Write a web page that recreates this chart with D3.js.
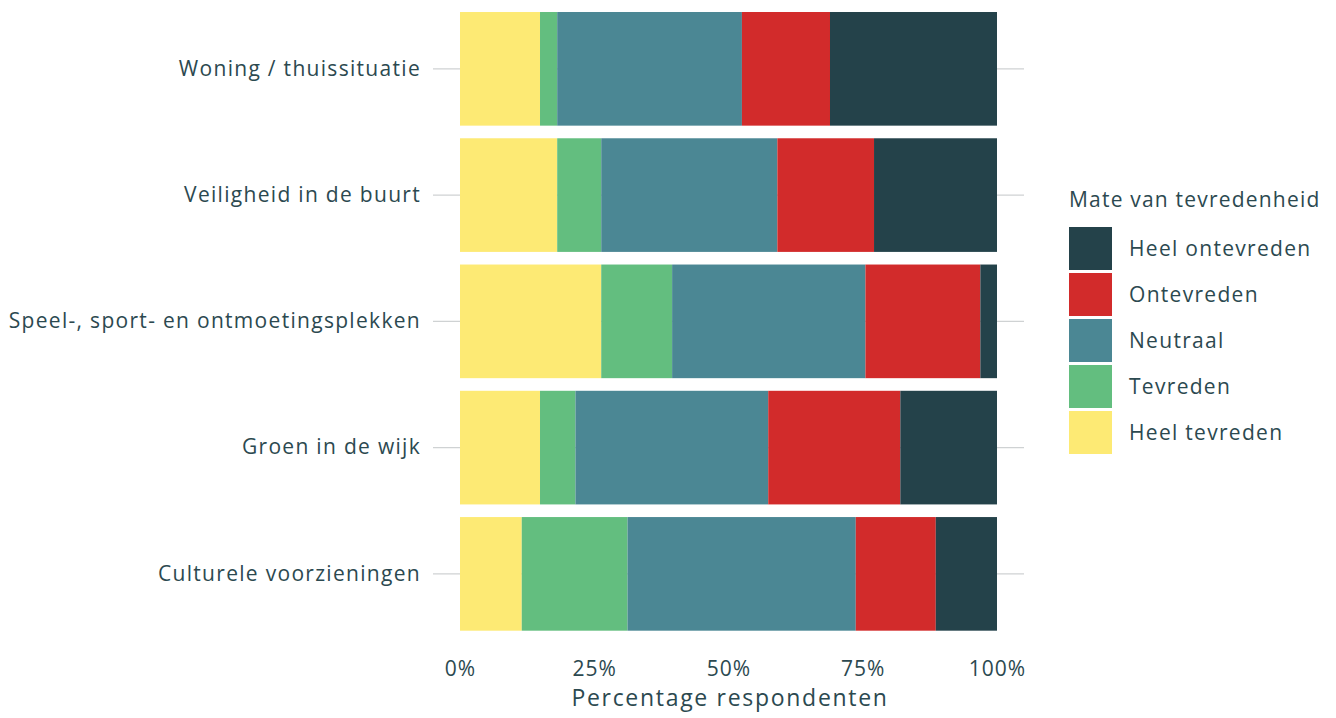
<!DOCTYPE html>
<html><head><meta charset="utf-8">
<script src="https://cdn.jsdelivr.net/npm/d3@7"></script>
<style>body{margin:0;background:#fff}svg{display:block}text{font-family:"Open Sans","Noto Sans",sans-serif;font-weight:400;fill:#2c4950;letter-spacing:1.3px}</style>
</head><body>
<svg id="c" width="1336" height="718"></svg>
<script>
const categories = ["Woning / thuissituatie","Veiligheid in de buurt","Speel-, sport- en ontmoetingsplekken","Groen in de wijk","Culturele voorzieningen"];
const levels = ["Heel tevreden","Tevreden","Neutraal","Ontevreden","Heel ontevreden"];
const heelTevreden   = [14.9, 18.1, 26.3, 14.9, 11.5];
const tevreden       = [ 3.2,  8.2, 13.2,  6.6, 19.7];
const neutraal       = [34.4, 32.8, 36.0, 35.9, 42.5];
const ontevreden     = [16.4, 18.0, 21.4, 24.6, 14.9];
const heelOntevreden = [31.1, 22.9,  3.1, 18.0, 11.4];
const xTicks = [0, 0.25, 0.5, 0.75, 1];
const colors = ["#fdea74","#63be7f","#4b8794","#d22b2b","#24424a"];

const series = [heelTevreden, tevreden, neutraal, ontevreden, heelOntevreden];
const rows = categories.map((c,i)=>{
  const tot = series.reduce((s,a)=>s+a[i],0);
  const r = {cat:c};
  levels.forEach((l,j)=>r[l]=series[j][i]/tot);
  return r;
});
const stack = d3.stack().keys(levels)(rows);

const svg = d3.select("#c");
const x = d3.scaleLinear().domain([0,1]).range([460,997]);
const y = d3.scaleBand().domain(categories).range([5.7,637]).paddingInner(0.1).paddingOuter(0.05);
const color = d3.scaleOrdinal().domain(levels).range(colors);

svg.append("g").selectAll("line").data(categories).join("line")
  .attr("x1",433).attr("x2",1024)
  .attr("y1",d=>y(d)+y.bandwidth()/2).attr("y2",d=>y(d)+y.bandwidth()/2)
  .attr("stroke","#cfd2d3").attr("stroke-width",1.4);

svg.append("g").selectAll("g").data(stack).join("g")
  .attr("fill",d=>color(d.key))
  .selectAll("rect").data(d=>d).join("rect")
  .attr("x",d=>x(d[0])).attr("width",d=>x(d[1])-x(d[0]))
  .attr("y",d=>y(d.data.cat)).attr("height",y.bandwidth());

const yAxis = svg.append("g").attr("transform","translate(433,0)")
  .call(d3.axisLeft(y).tickSize(0).tickPadding(12));
yAxis.select(".domain").remove();
yAxis.selectAll("text").style("font-size","21px").style("fill","#2c4950").attr("dy","0.32em");

const xAxis = svg.append("g").attr("transform","translate(0,649)")
  .call(d3.axisBottom(x).tickValues(xTicks).tickFormat(d3.format(".0%")).tickSize(0).tickPadding(12));
xAxis.select(".domain").remove();
xAxis.selectAll("text").style("font-size","21px").style("fill","#2c4950").style("letter-spacing","1px");
svg.selectAll("g").attr("font-family",null);

svg.append("text").attr("x",730).attr("y",706).attr("text-anchor","middle")
  .style("font-size","23px").style("letter-spacing","1.7px").text("Percentage respondenten");

const lg = svg.append("g");
lg.append("text").attr("x",1069).attr("y",207).style("font-size","21px").style("letter-spacing","1.2px").text("Mate van tevredenheid");
const legItems = levels.slice().reverse();
const li = lg.selectAll("g.it").data(legItems).join("g").attr("class","it")
  .attr("transform",(d,i)=>`translate(1069,${227+i*46})`);
li.append("rect").attr("width",43).attr("height",43).attr("fill",d=>color(d));
li.append("text").attr("x",60).attr("y",21.5).attr("dy","0.35em").style("font-size","21px").text(d=>d);
</script>
</body></html>
